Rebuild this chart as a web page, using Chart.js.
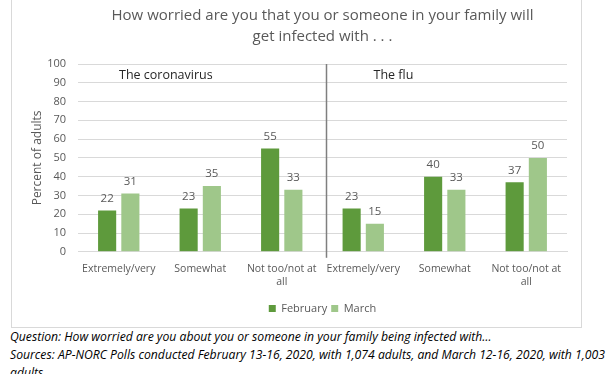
<!DOCTYPE html>
<html>
<head>
<meta charset="utf-8">
<script src="https://cdn.jsdelivr.net/npm/chart.js@4"></script>
<style>
  body { margin: 0; background: #fff; width: 612px; height: 374px; overflow: hidden; position: relative; font-family: "Open Sans", sans-serif; }
  #frame { position: absolute; left: 11px; top: -1px; width: 569px; height: 327px; border: 1px solid #d9d9d9; }
  #caption { position: absolute; left: 10px; top: 328px; font-style: italic; font-size: 12.2px; color: #000; line-height: 18px; white-space: nowrap; }
</style>
</head>
<body>
<div id="frame"><canvas id="chart" width="569" height="327"></canvas></div>
<div id="caption">
  <div>Question: How worried are you about you or someone in your family being infected with…</div>
  <div>Sources: AP-NORC Polls conducted February 13-16, 2020, with 1,074 adults, and March 12-16, 2020, with 1,003</div>
  <div>adults</div>
</div>
<script>
const categories = [
  "Extremely/very", "Somewhat", ["Not too/not at", "all"],
  "Extremely/very", "Somewhat", ["Not too/not at", "all"]
];
const groupLabels = ["The coronavirus", "The flu"];
const february = [22, 23, 55, 23, 40, 37];
const march = [31, 35, 33, 15, 33, 50];
const yTicks = [0, 10, 20, 30, 40, 50, 60, 70, 80, 90, 100];

const gray = "#595959";

// valores encima de las barras
const valueLabels = {
  id: "valueLabels",
  afterDatasetsDraw(chart) {
    const ctx = chart.ctx;
    ctx.save();
    ctx.font = "11.5px 'Open Sans'";
    ctx.fillStyle = gray;
    ctx.textAlign = "center";
    ctx.textBaseline = "middle";
    chart.data.datasets.forEach((ds, i) => {
      chart.getDatasetMeta(i).data.forEach((bar, j) => {
        ctx.fillText(ds.data[j], bar.x, bar.y - 12);
      });
    });
    ctx.restore();
  }
};

// separador y nombres de grupo
const groups = {
  id: "groups",
  afterDatasetsDraw(chart) {
    const ctx = chart.ctx;
    const x = chart.scales.x;
    const area = chart.chartArea;
    const sepX = (x.getPixelForValue(2) + x.getPixelForValue(3)) / 2 + 4;
    ctx.save();
    ctx.strokeStyle = "#7f7f7f";
    ctx.lineWidth = 1.5;
    ctx.beginPath();
    ctx.moveTo(sepX, area.top);
    ctx.lineTo(sepX, area.bottom + 6);
    ctx.stroke();
    ctx.font = "12.5px 'Open Sans'";
    ctx.fillStyle = "#262626";
    ctx.textBaseline = "middle";
    ctx.fillText(groupLabels[0], area.left + 41, area.top + 11);
    ctx.fillText(groupLabels[1], sepX + 47, area.top + 11);
    ctx.restore();
  }
};

new Chart(document.getElementById("chart"), {
  type: "bar",
  data: {
    labels: categories,
    datasets: [
      { label: "February", data: february, backgroundColor: "#5e9a3c", categoryPercentage: 0.57, barPercentage: 0.78 },
      { label: "March", data: march, backgroundColor: "#9fc78a", categoryPercentage: 0.57, barPercentage: 0.78 }
    ]
  },
  options: {
    responsive: false,
    animation: false,
    layout: { padding: { left: 0, right: 14, top: 0, bottom: 3 } },
    plugins: {
      title: {
        display: true,
        fullSize: false,
        text: ["How worried are you that you or someone in your family will", "get infected with . . ."],
        color: gray,
        font: { family: "Open Sans", size: 15, weight: "normal", lineHeight: 1.4 },
        padding: { top: 5, bottom: 17 }
      },
      legend: {
        position: "bottom",
        fullSize: false,
        labels: {
          color: gray,
          font: { family: "Open Sans", size: 11 },
          boxWidth: 7,
          boxHeight: 7,
          padding: 4
        }
      },
      tooltip: { enabled: false }
    },
    scales: {
      x: {
        grid: { display: false, drawTicks: false },
        border: { color: "#d9d9d9" },
        ticks: { color: gray, font: { family: "Open Sans", size: 10.5 }, padding: 11, maxRotation: 0, autoSkip: false }
      },
      y: {
        min: 0,
        max: 100,
        afterFit(scale) { scale.width = 66; },
        afterBuildTicks(scale) { scale.ticks = yTicks.map(v => ({ value: v })); },
        grid: { color: "#d9d9d9", drawTicks: false },
        border: { display: false },
        ticks: { color: gray, font: { family: "Open Sans", size: 11 }, padding: 12 },
        title: {
          display: true,
          text: "Percent of adults",
          color: gray,
          font: { family: "Open Sans", size: 12 },
          padding: { top: 18, bottom: 0 }
        }
      }
    }
  },
  plugins: [valueLabels, groups]
});
</script>
</body>
</html>
